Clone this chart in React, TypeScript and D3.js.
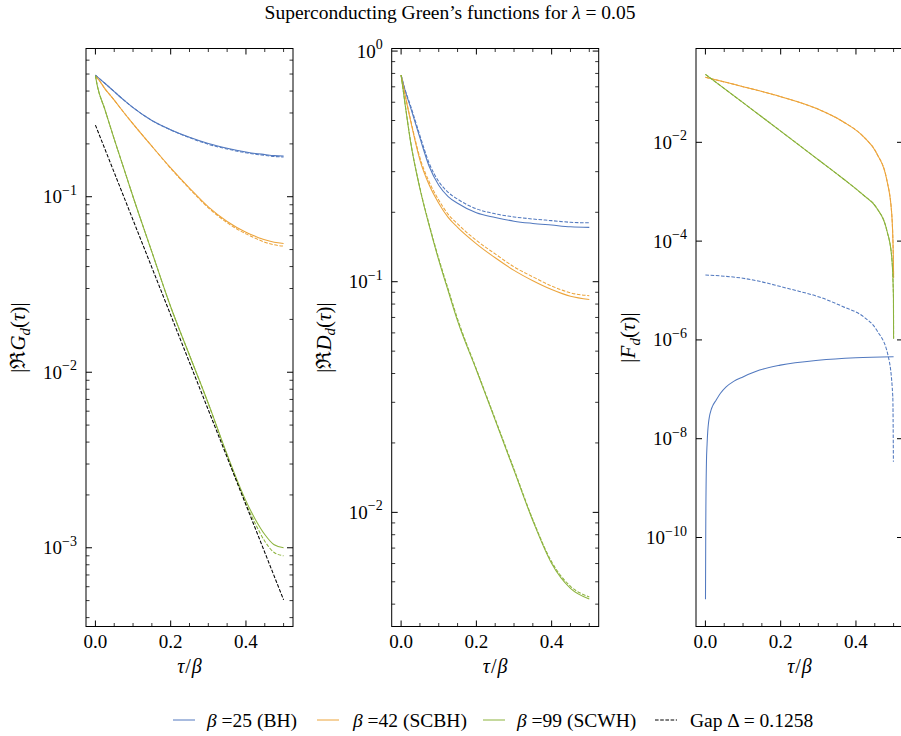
import React, { useLayoutEffect, useRef, useState } from "react";
import * as d3 from "d3";

const FONT = "'Liberation Serif', 'DejaVu Serif', serif";
const FS_TICK = 19;
const FS_TEXT = 19.5;
const FS_YLAB = 21;
const FS_XLAB = 20;

// ---------- shared x axis ----------
const X_DOMAIN: [number, number] = [-0.025, 0.525];
const xMajorTicks = [0, 0.2, 0.4];
const xTickLabels = ["0.0", "0.2", "0.4"];
const xMinorTicks = [0.05, 0.1, 0.15, 0.25, 0.3, 0.35, 0.45, 0.5];

// ---------- panel 1 : |Re G_d(tau)| ----------
const tauG = [0, 0.005, 0.025, 0.05, 0.075, 0.1, 0.15, 0.2, 0.25, 0.3, 0.35, 0.4, 0.425, 0.45, 0.475, 0.5];
const G_BH = [0.493, 0.482, 0.443, 0.397, 0.356, 0.322, 0.272, 0.241, 0.218, 0.201, 0.189, 0.18, 0.1765, 0.174, 0.1715, 0.1706];
const G_BH_d = [0.493, 0.482, 0.443, 0.397, 0.356, 0.322, 0.272, 0.24, 0.217, 0.199, 0.187, 0.178, 0.1745, 0.172, 0.1695, 0.1685];
const G_SCBH = [0.483, 0.474, 0.413, 0.355, 0.303, 0.26, 0.194, 0.146, 0.112, 0.0875, 0.0723, 0.0628, 0.0595, 0.0568, 0.0551, 0.0542];
const G_SCBH_d = [0.483, 0.474, 0.413, 0.355, 0.303, 0.26, 0.194, 0.145, 0.111, 0.0865, 0.0711, 0.0614, 0.058, 0.0551, 0.0532, 0.0523];
const G_SCWH = [0.49, 0.43, 0.315, 0.213, 0.146, 0.1, 0.0485, 0.0236, 0.0125, 0.00665, 0.0034, 0.00185, 0.00145, 0.00119, 0.00104, 0.001];
const G_SCWH_d = [0.49, 0.43, 0.315, 0.213, 0.146, 0.1, 0.0485, 0.0236, 0.0125, 0.00662, 0.00335, 0.00178, 0.00137, 0.00109, 0.00094, 0.0009];
const tauGap = [0, 0.5];
const GAP = [0.256, 5.05e-4];

// ---------- panel 2 : |Re D_d(tau)| ----------
const tauD = [0, 0.01, 0.025, 0.05, 0.075, 0.1, 0.125, 0.15, 0.2, 0.25, 0.3, 0.35, 0.4, 0.45, 0.5];
const D_BH = [0.787, 0.68, 0.57, 0.42, 0.315, 0.262, 0.234, 0.219, 0.199, 0.19, 0.183, 0.179, 0.176, 0.173, 0.172];
const D_BH_d = [0.787, 0.685, 0.58, 0.43, 0.325, 0.272, 0.244, 0.228, 0.207, 0.197, 0.191, 0.187, 0.184, 0.181, 0.18];
const D_SCBH = [0.787, 0.65, 0.5, 0.337, 0.262, 0.219, 0.19, 0.172, 0.146, 0.127, 0.112, 0.101, 0.0925, 0.0865, 0.0838];
const D_SCBH_d = [0.787, 0.655, 0.505, 0.345, 0.27, 0.226, 0.196, 0.178, 0.151, 0.132, 0.116, 0.105, 0.0958, 0.0895, 0.087];
const D_SCWH = [0.787, 0.597, 0.405, 0.253, 0.174, 0.124, 0.0912, 0.0676, 0.0414, 0.0251, 0.0152, 0.0092, 0.006, 0.00468, 0.00421];
const D_SCWH_d = [0.787, 0.6, 0.408, 0.255, 0.176, 0.126, 0.093, 0.069, 0.0418, 0.0254, 0.0154, 0.0093, 0.0061, 0.00478, 0.0043];

// ---------- panel 3 : |F_d(tau)| ----------
const tauF = [0, 0.1, 0.2, 0.3, 0.366, 0.42, 0.455, 0.482, 0.495, 0.4996, 0.5];
const F_SCBH = [0.207, 0.134, 0.0838, 0.0466, 0.0261, 0.013, 0.00598, 0.00173, 3.65e-4, 3.55e-5, 1.9e-5];
const F_SCBH_d = [0.207, 0.134, 0.0838, 0.0466, 0.0261, 0.013, 0.00598, 0.00173, 3.6e-4, 3.4e-5, 1.8e-5];
const F_SCWH = [0.238, 0.0634, 0.0169, 0.00444, 0.00183, 8.5e-4, 4.7e-4, 1.66e-4, 4.83e-5, 7.5e-6, 1.07e-6];
const F_SCWH_d = [0.238, 0.0634, 0.0169, 0.00444, 0.00183, 8.5e-4, 4.7e-4, 1.64e-4, 4.8e-5, 7.4e-6, 1.05e-6];
const tauF_BH = [0.0002, 0.0009, 0.0027, 0.0045, 0.0062, 0.0084, 0.0107, 0.015, 0.0184, 0.0284, 0.04, 0.0551, 0.075, 0.0996, 0.144, 0.199, 0.3, 0.4, 0.5];
const F_BH = [5.6e-12, 1.4e-10, 3.2e-9, 7.9e-9, 1.41e-8, 2.14e-8, 2.82e-8, 3.8e-8, 4.47e-8, 6.03e-8, 8.3e-8, 1.12e-7, 1.45e-7, 1.78e-7, 2.45e-7, 3.09e-7, 3.89e-7, 4.37e-7, 4.57e-7];
const tauF_BH_d = [0, 0.05, 0.1, 0.15, 0.2, 0.25, 0.3, 0.366, 0.42, 0.455, 0.486, 0.4979, 0.4995];
const F_BH_d = [2.06e-5, 1.95e-5, 1.77e-5, 1.5e-5, 1.2e-5, 9.6e-6, 7.5e-6, 4.7e-6, 2.95e-6, 1.58e-6, 4.6e-7, 7.1e-8, 3.4e-9];

// ---------- legend ----------
const legendBetas = ["25", "42", "99"];
const legendTags = ["(BH)", "(SCBH)", "(SCWH)"];
const gapLabel = "Gap \u0394 = 0.1258";

const C_BLUE = "#5279bf";
const C_ORANGE = "#eca43b";
const C_GREEN = "#8cb33d";
const DASH = "3.6,1.6";

type Series = { tau: number[]; val: number[]; color: string; dashed?: boolean };

const TOP = 48.5;
const BOTTOM = 626.5;
const PW = 207;

function CText(props: { x: number; y: number; rotate?: number; fontSize: number; children: React.ReactNode }) {
  const { x, y, rotate = 0, fontSize, children } = props;
  const ref = useRef<SVGTextElement>(null);
  const [off, setOff] = useState(0);
  useLayoutEffect(() => {
    if (ref.current) {
      const bb = ref.current.getBBox();
      setOff(-(bb.x + bb.width / 2));
    }
  }, []);
  return (
    <g transform={`translate(${x},${y}) rotate(${rotate})`}>
      <text ref={ref} x={off} y={0} fontFamily={FONT} fontSize={fontSize}>
        {children}
      </text>
    </g>
  );
}

function Panel(props: {
  left: number;
  yDomain: [number, number];
  majorExps: number[];
  showMinor: boolean;
  series: Series[];
  ylabel: React.ReactNode;
}) {
  const { left, yDomain, majorExps, showMinor, series, ylabel } = props;
  const right = left + PW;
  const x = d3.scaleLinear().domain(X_DOMAIN).range([left, right]);
  const y = d3.scaleLog().domain(yDomain).range([BOTTOM, TOP]);
  const majors = majorExps.map((e) => Math.pow(10, e));
  const minors = showMinor
    ? y.ticks().filter((v) => {
        const l = Math.log10(v);
        return Math.abs(l - Math.round(l)) > 1e-6;
      })
    : [];
  const line = d3
    .line<[number, number]>()
    .x((d) => x(d[0]))
    .y((d) => y(d[1]))
    .curve(d3.curveMonotoneX);
  const MJ = 6;
  const MN = 3.5;
  const cx = (left + right) / 2;
  return (
    <g>
      {series.map((s, i) => (
        <path
          key={i}
          d={line(s.tau.map((t, k) => [t, s.val[k]] as [number, number])) || ""}
          fill="none"
          stroke={s.color}
          strokeWidth={1.05}
          strokeDasharray={s.dashed ? DASH : undefined}
        />
      ))}
      {xMajorTicks.map((t) => (
        <g key={"xm" + t}>
          <line x1={x(t)} x2={x(t)} y1={BOTTOM} y2={BOTTOM - MJ} stroke="#000" strokeWidth={1} />
          <line x1={x(t)} x2={x(t)} y1={TOP} y2={TOP + MJ} stroke="#000" strokeWidth={1} />
        </g>
      ))}
      {xMinorTicks.map((t) => (
        <g key={"xn" + t}>
          <line x1={x(t)} x2={x(t)} y1={BOTTOM} y2={BOTTOM - MN} stroke="#000" strokeWidth={0.8} />
          <line x1={x(t)} x2={x(t)} y1={TOP} y2={TOP + MN} stroke="#000" strokeWidth={0.8} />
        </g>
      ))}
      {xMajorTicks.map((t, i) => (
        <text key={"xl" + t} x={x(t)} y={648} textAnchor="middle" fontFamily={FONT} fontSize={FS_TICK}>
          {xTickLabels[i]}
        </text>
      ))}
      {majors.map((v) => (
        <g key={"ym" + v}>
          <line x1={left} x2={left + MJ} y1={y(v)} y2={y(v)} stroke="#000" strokeWidth={1} />
          <line x1={right} x2={right - MJ} y1={y(v)} y2={y(v)} stroke="#000" strokeWidth={1} />
        </g>
      ))}
      {minors.map((v) => (
        <g key={"yn" + v}>
          <line x1={left} x2={left + MN} y1={y(v)} y2={y(v)} stroke="#000" strokeWidth={0.8} />
          <line x1={right} x2={right - MN} y1={y(v)} y2={y(v)} stroke="#000" strokeWidth={0.8} />
        </g>
      ))}
      {majorExps.map((e) => (
        <text key={"yl" + e} x={left - 9} y={y(Math.pow(10, e)) + 6.5} textAnchor="end" fontFamily={FONT} fontSize={FS_TICK}>
          10
          <tspan dy={-8.5} fontSize={14}>
            {e < 0 ? "\u2212" + Math.abs(e) : String(e)}
          </tspan>
        </text>
      ))}
      <rect x={left} y={TOP} width={PW} height={BOTTOM - TOP} fill="none" stroke="#000" strokeWidth={1} />
      <CText x={cx} y={673} fontSize={FS_XLAB}>
        <tspan fontStyle="italic">τ</tspan>
        <tspan dx={1}>/</tspan>
        <tspan fontStyle="italic" dx={1}>β</tspan>
      </CText>
      <CText x={left - 61} y={(TOP + BOTTOM) / 2} rotate={-90} fontSize={FS_YLAB}>
        {ylabel}
      </CText>
    </g>
  );
}

function YLab({ pre, sym }: { pre: string; sym: string }) {
  return (
    <>
      {pre}
      <tspan fontStyle="italic">{sym}</tspan>
      <tspan fontStyle="italic" fontSize={15} dy={4.5}>
        d
      </tspan>
      <tspan dy={-4.5}>(</tspan>
      <tspan fontStyle="italic">τ</tspan>)|
    </>
  );
}

export default function App() {
  const panels = [
    {
      left: 86,
      yDomain: [3.56e-4, 0.699] as [number, number],
      majorExps: [-3, -2, -1],
      showMinor: true,
      ylabel: <YLab pre={"|\u211C"} sym="G" />,
      series: [
        { tau: tauG, val: G_BH, color: C_BLUE },
        { tau: tauG, val: G_BH_d, color: C_BLUE, dashed: true },
        { tau: tauG, val: G_SCBH, color: C_ORANGE },
        { tau: tauG, val: G_SCBH_d, color: C_ORANGE, dashed: true },
        { tau: tauG, val: G_SCWH, color: C_GREEN },
        { tau: tauG, val: G_SCWH_d, color: C_GREEN, dashed: true },
        { tau: tauGap, val: GAP, color: "#000", dashed: true },
      ],
    },
    {
      left: 391.7,
      yDomain: [3.2e-3, 1.026] as [number, number],
      majorExps: [-2, -1, 0],
      showMinor: true,
      ylabel: <YLab pre={"|\u211C"} sym="D" />,
      series: [
        { tau: tauD, val: D_BH, color: C_BLUE },
        { tau: tauD, val: D_BH_d, color: C_BLUE, dashed: true },
        { tau: tauD, val: D_SCBH, color: C_ORANGE },
        { tau: tauD, val: D_SCBH_d, color: C_ORANGE, dashed: true },
        { tau: tauD, val: D_SCWH, color: C_GREEN },
        { tau: tauD, val: D_SCWH_d, color: C_GREEN, dashed: true },
      ],
    },
    {
      left: 696,
      yDomain: [1.58e-12, 0.793] as [number, number],
      majorExps: [-10, -8, -6, -4, -2],
      showMinor: false,
      ylabel: <YLab pre={"|"} sym="F" />,
      series: [
        { tau: tauF_BH, val: F_BH, color: C_BLUE },
        { tau: tauF_BH_d, val: F_BH_d, color: C_BLUE, dashed: true },
        { tau: tauF, val: F_SCBH, color: C_ORANGE },
        { tau: tauF, val: F_SCBH_d, color: C_ORANGE, dashed: true },
        { tau: tauF, val: F_SCWH, color: C_GREEN },
        { tau: tauF, val: F_SCWH_d, color: C_GREEN, dashed: true },
      ],
    },
  ];

  const legendColors = [C_BLUE, C_ORANGE, C_GREEN];
  const legLineX = [173, 317, 483, 655];
  const legTextX = [207, 353, 517, 690];
  const LY = 720;

  return (
    <svg
      width={901}
      height={736}
      style={{ position: "absolute", left: 0, top: 0, background: "#fff" }}
      xmlns="http://www.w3.org/2000/svg"
    >
      <rect x={0} y={0} width={901} height={736} fill="#fff" />
      <CText x={450} y={19} fontSize={FS_TEXT}>
        Superconducting Green’s functions for <tspan fontStyle="italic">λ</tspan> = 0.05
      </CText>
      {panels.map((p, i) => (
        <Panel key={i} {...p} />
      ))}
      {legendBetas.map((b, i) => (
        <g key={"lg" + i}>
          <line x1={legLineX[i]} x2={legLineX[i] + 22} y1={LY} y2={LY} stroke={legendColors[i]} strokeWidth={1} />
          <text x={legTextX[i]} y={LY + 7} fontFamily={FONT} fontSize={FS_TEXT}>
            <tspan fontStyle="italic">β</tspan> ={b} {legendTags[i]}
          </text>
        </g>
      ))}
      <line x1={legLineX[3]} x2={legLineX[3] + 22} y1={LY} y2={LY} stroke="#000" strokeWidth={1} strokeDasharray={DASH} />
      <text x={legTextX[3]} y={LY + 7} fontFamily={FONT} fontSize={FS_TEXT}>
        {gapLabel}
      </text>
    </svg>
  );
}
